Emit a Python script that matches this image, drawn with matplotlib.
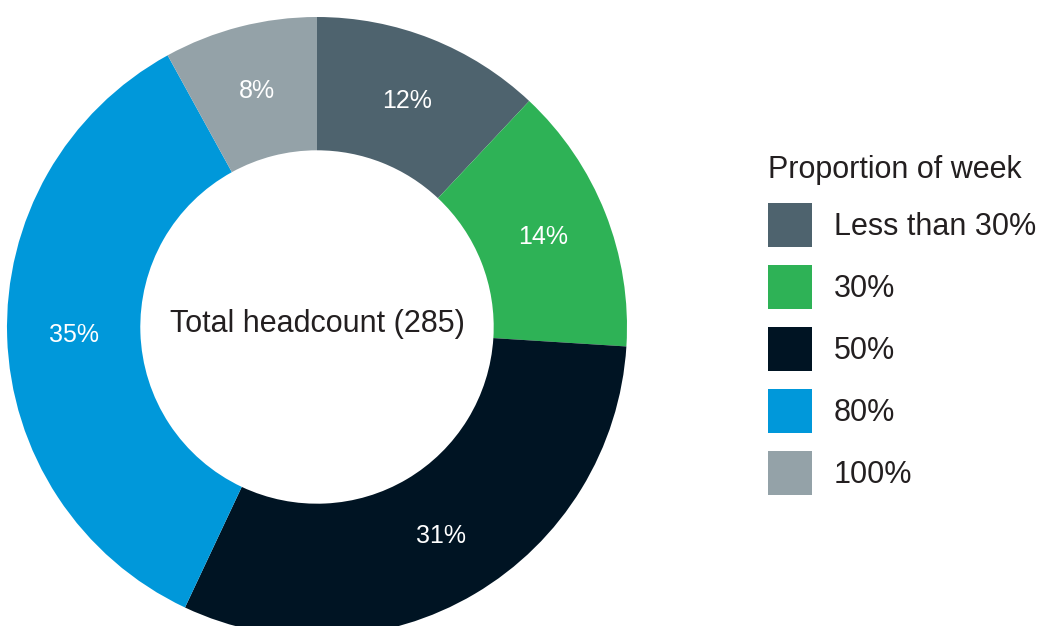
import matplotlib
matplotlib.use("Agg")
import matplotlib.pyplot as plt

categories = ["Less than 30%", "30%", "50%", "80%", "100%"]
values = [12, 14, 31, 35, 8]
colors = ["#4e636e", "#2eb256", "#001423", "#0098da", "#94a2a8"]
legend_title = "Proportion of week"
center_text = "Total headcount (285)"

plt.rcParams['font.family'] = ['Liberation Sans', 'DejaVu Sans']

W, H = 1038, 626
fig = plt.figure(figsize=(W / 100, H / 100), dpi=100)
cx, cy, R = 317, 327, 310
ax = fig.add_axes([(cx - R) / W, (H - cy - R) / H, 2 * R / W, 2 * R / H])
wedges, texts, autotexts = ax.pie(
    values, colors=colors, startangle=90, counterclock=False,
    radius=1.0, wedgeprops=dict(width=0.43, linewidth=0),
    autopct=lambda p: f"{p:.0f}%", pctdistance=0.785,
    textprops=dict(color="white", fontsize=18))
ax.set_xlim(-1, 1)
ax.set_ylim(-1, 1)
ax.set_aspect("equal")
ax.axis("off")
ax.text(0, 0.01, center_text, ha="center", va="center", fontsize=22, color="#231f20")

leg = fig.legend(wedges, categories, title=legend_title,
                 loc="upper left", bbox_to_anchor=(768 / W, 1 - 155 / H),
                 frameon=False, fontsize=22, title_fontsize=22,
                 handlelength=1.44, handleheight=1.835, labelspacing=0.59,
                 handletextpad=0.72, borderpad=0, borderaxespad=0)
leg._legend_box.align = "left"
for t in leg.get_texts():
    t.set_color("#231f20")
leg.get_title().set_color("#231f20")

fig.savefig("out.png", dpi=100)
